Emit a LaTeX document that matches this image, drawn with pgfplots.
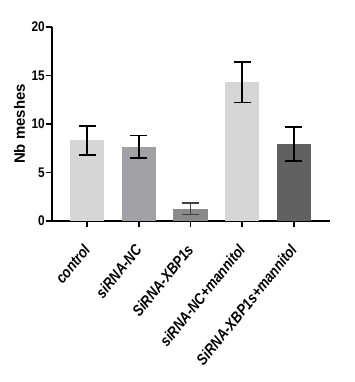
\documentclass[border=0pt]{standalone}
\usepackage{pgfplots}
\pgfplotsset{compat=1.18}
\usepackage{fontspec}
\setmainfont{Liberation Sans}
\newfontfamily\cf[FakeStretch=0.85]{Liberation Sans}
\definecolor{cA}{HTML}{D6D6D6}
\definecolor{cB}{HTML}{A1A1A5}
\definecolor{cC}{HTML}{8A8A8A}
\definecolor{cD}{HTML}{D6D6D6}
\definecolor{cE}{HTML}{616161}
\begin{document}
\begin{tikzpicture}
\begin{axis}[
  scale only axis,
  width=278bp, height=194bp,
  xmin=-0.68, xmax=4.70,
  ymin=0, ymax=20,
  axis x line*=bottom, axis y line*=left,
  axis line style={line width=1.8bp, -},
  xtick={0,1,2,3,4},
  xticklabels={control, siRNA-NC, SiRNA-XBP1s, siRNA-NC+mannitol, SiRNA-XBP1s+mannitol},
  xticklabel style={xshift=-5bp, yshift=-16bp, rotate=51, anchor=north east, font=\cf\fontsize{15.5}{16}\selectfont\bfseries\itshape, inner sep=0bp},
  ytick={0,5,10,15,20},
  yticklabel style={font=\cf\fontsize{14}{15}\selectfont\bfseries, inner sep=0bp, xshift=-1bp},
  /pgf/number format/assume math mode=true,
  tick align=outside,
  tick style={line width=1.8bp, black},
  major tick length=6bp,
  ylabel={Nb meshes},
  ylabel style={font=\fontsize{15}{16}\selectfont\bfseries, yshift=3bp},
  ybar, bar width=0.66, bar shift=0pt,
  error bars/y dir=both, error bars/y explicit,
  error bars/error bar style={line width=1.5bp, black},
  error bars/error mark options={line width=1.5bp, black, mark size=8.5bp, rotate=90},
]
\addplot[fill=cA, draw=none] coordinates {(0,8.3) +- (0,1.5)};
\addplot[fill=cB, draw=none] coordinates {(1,7.65) +- (0,1.15)};
\addplot[fill=cC, draw=none, error bars/error bar style={line width=1.5bp, black!75}, error bars/error mark options={line width=1.5bp, black!75, mark size=8.5bp, rotate=90}] coordinates {(2,1.27) +- (0,0.58)};
\addplot[fill=cD, draw=none] coordinates {(3,14.3) +- (0,2.1)};
\addplot[fill=cE, draw=none] coordinates {(4,7.95) +- (0,1.75)};
\coordinate (O) at (rel axis cs:0,0);
\end{axis}
\path (O) ++(-52bp,-161bp) rectangle ++(355bp,382bp);
\end{tikzpicture}
\end{document}
